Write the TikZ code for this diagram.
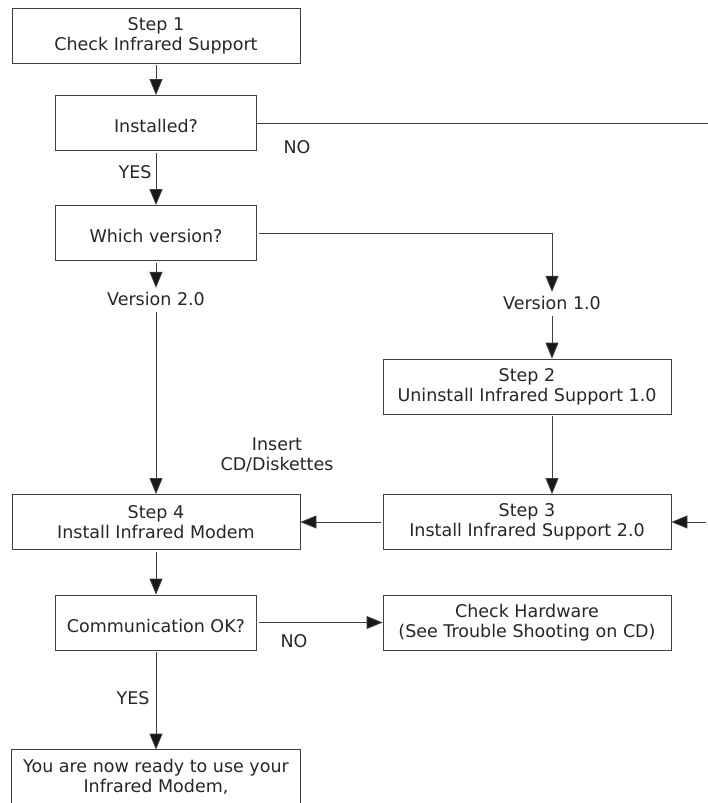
\documentclass[tikz,border=0pt]{standalone}
\usepackage{fontspec}
\setmainfont{DejaVu Sans}
\usetikzlibrary{arrows.meta}
\begin{document}
\begin{tikzpicture}[x=1pt,y=-1pt,line width=0.8pt,
  every node/.style={font=\fontsize{17.5}{20}\selectfont,text=black!85},
  box/.style={draw=black!75,minimum width=288pt,minimum height=55pt,align=center,inner sep=0pt},
  qbox/.style={box,minimum width=201pt,text height=23pt,text depth=4pt},
  lbl/.style={inner sep=4pt,align=center},
  wire/.style={draw=black!75},
  flow/.style={draw=black!75,shorten <=2pt,-{Triangle[length=16pt,width=13pt,fill=black!90]}}]
  \useasboundingbox (0,0) rectangle (708,803);
  % left column
  \node[box] (s1) at (156,35.5) {Step 1\\Check Infrared Support};
  \node[qbox] (inst) at (156,123) {Installed?};
  \node[qbox] (which) at (156,233) {Which version?};
  \node[lbl] (v2) at (156,299) {Version 2.0};
  \node[box] (s4) at (156,522) {Step 4\\Install Infrared Modem};
  \node[qbox] (comm) at (156,622.5) {Communication OK?};
  \node[box,draw=none,minimum height=54pt] (fin) at (156,777) {You are now ready to use your\\Infrared Modem,};
  % right column
  \node[lbl] (v1) at (552,303) {Version 1.0};
  \node[box] (s2) at (527,386.5) {Step 2\\Uninstall Infrared Support 1.0};
  \node[box] (s3) at (527,522) {Step 3\\Install Infrared Support 2.0};
  \node[box] (hw) at (527,622.5) {Check Hardware\\(See Trouble Shooting on CD)};
  \coordinate (eR1) at (708,123);
  \coordinate (eR2) at (708,522);
  % labels
  \node (no1) at (297,147) {NO};
  \node (yes1) at (135,172) {YES};
  \node[lbl] (cd) at (277,455) {Insert\\CD/Diskettes};
  \node (no2) at (294,641) {NO};
  \node (yes2) at (133,698) {YES};
  % connectors
  \draw[flow] (s1.south) -- (inst.north);
  \draw[wire] (inst.east) -- (eR1);
  \draw[flow] (inst.south) -- (which.north);
  \draw[flow] (which.east) -| (v1.north);
  \draw[flow] (which.south) -- (v2.north);
  \draw[flow] (v2.south) -- (s4.north);
  \draw[flow] (v1.south) -- (s2.north -| v1.south);
  \draw[flow] (s2.south -| v1.south) -- (s3.north -| v1.south);
  \draw[flow] (s3.west) -- (s4.east);
  \draw[flow] (eR2) -- (s3.east);
  \draw[flow] (s4.south) -- (comm.north);
  \draw[flow] (comm.east) -- (hw.west);
  \draw[flow] (comm.south) -- (fin.north);
  \draw[wire] (fin.south west) -- (fin.north west) -- (fin.north east) -- (fin.south east);
\end{tikzpicture}
\end{document}
